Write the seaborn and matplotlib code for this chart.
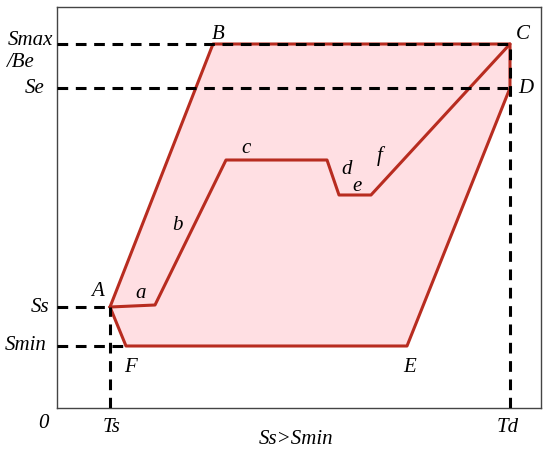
import matplotlib
matplotlib.use("Agg")
import matplotlib.pyplot as plt
import seaborn as sns
import pandas as pd

# Outer polygon A-B-C-D-E-F-A (coordinates in chart units)
outer_labels = ["A", "B", "C", "D", "E", "F", "A"]
outer_x = [53, 156, 453, 453, 350, 69, 53]
outer_y = [101, 364, 364, 320, 62, 62, 101]

# Inner path A-a-b-c-d-e-f-C
inner_x = [53, 98, 169, 270, 282, 314, 453]
inner_y = [101, 103, 248, 248, 213, 213, 364]

# Levels
Ts, Td = 53, 453
Smax, Se, Ss, Smin = 364, 320, 101, 62

sns.set_theme(style="white")
plt.rcParams["font.family"] = ["Liberation Serif", "DejaVu Serif"]
plt.rcParams["text.color"] = "black"

fig = plt.figure(figsize=(5.5, 4.59), dpi=100)
ax = fig.add_axes([57/550, 51/459, 484/550, 401/459])

line_c = "#B82C20"
ax.fill(outer_x, outer_y, color="#FFDFE3", zorder=1)
df_o = pd.DataFrame({"x": outer_x, "y": outer_y, "i": range(len(outer_x))})
df_i = pd.DataFrame({"x": inner_x, "y": inner_y, "i": range(len(inner_x))})
sns.lineplot(data=df_o, x="x", y="y", sort=False, estimator=None, color=line_c, lw=2.2, ax=ax, zorder=3)
sns.lineplot(data=df_i, x="x", y="y", sort=False, estimator=None, color=line_c, lw=2.2, ax=ax, zorder=3)

dash = dict(color="black", lw=2.2, ls=(0, (3.5, 2.5)), zorder=4)
ax.plot([0, Td], [Smax, Smax], **dash)
ax.plot([0, Td], [Se, Se], **dash)
ax.plot([0, Ts], [Ss, Ss], **dash)
ax.plot([0, outer_x[5]], [Smin, Smin], **dash)
ax.plot([Ts, Ts], [0, Ss], **dash)
ax.plot([Td, Td], [0, Smax], **dash)

ax.set_xlim(0, 484)
ax.set_ylim(0, 401)
ax.set_xticks([])
ax.set_yticks([])
ax.set_xlabel("")
ax.set_ylabel("")
for s in ax.spines.values():
    s.set_visible(True)
    s.set_color("#444444")
    s.set_linewidth(1.0)

fs = 15
it = dict(fontsize=fs, style="italic", clip_on=False, color="black")
# point labels
ax.text(41, 116, "A", ha="center", va="center", **it)
ax.text(161, 374, "B", ha="center", va="center", **it)
ax.text(466, 374, "C", ha="center", va="center", **it)
ax.text(469, 320, "D", ha="center", va="center", **it)
ax.text(353, 40, "E", ha="center", va="center", **it)
ax.text(73, 40, "F", ha="center", va="center", **it)
# segment labels
ax.text(84, 115, "a", ha="center", va="center", **it)
ax.text(120, 183, "b", ha="center", va="center", **it)
ax.text(189, 260, "c", ha="center", va="center", **it)
ax.text(290, 239, "d", ha="center", va="center", **it)
ax.text(300, 222, "e", ha="center", va="center", **it)
ax.text(323, 252, "f", ha="center", va="center", **it)
# axis labels
ax.text(-27, 368, "Smax", ha="center", va="center", **it)
ax.text(-36, 346, "/Be", ha="center", va="center", **it)
ax.text(-22, 320, "Se", ha="center", va="center", **it)
ax.text(-17, 101, "Ss", ha="center", va="center", **it)
ax.text(-31, 62, "Smin", ha="center", va="center", **it)
ax.text(-14, -15, "0", ha="center", va="center", **it)
ax.text(Ts + 2, -20, "Ts", ha="center", va="center", **it)
ax.text(Td - 2, -20, "Td", ha="center", va="center", **it)
ax.text(239, -32, "Ss>Smin", ha="center", va="center", **it)

fig.savefig("out.png", dpi=100)
